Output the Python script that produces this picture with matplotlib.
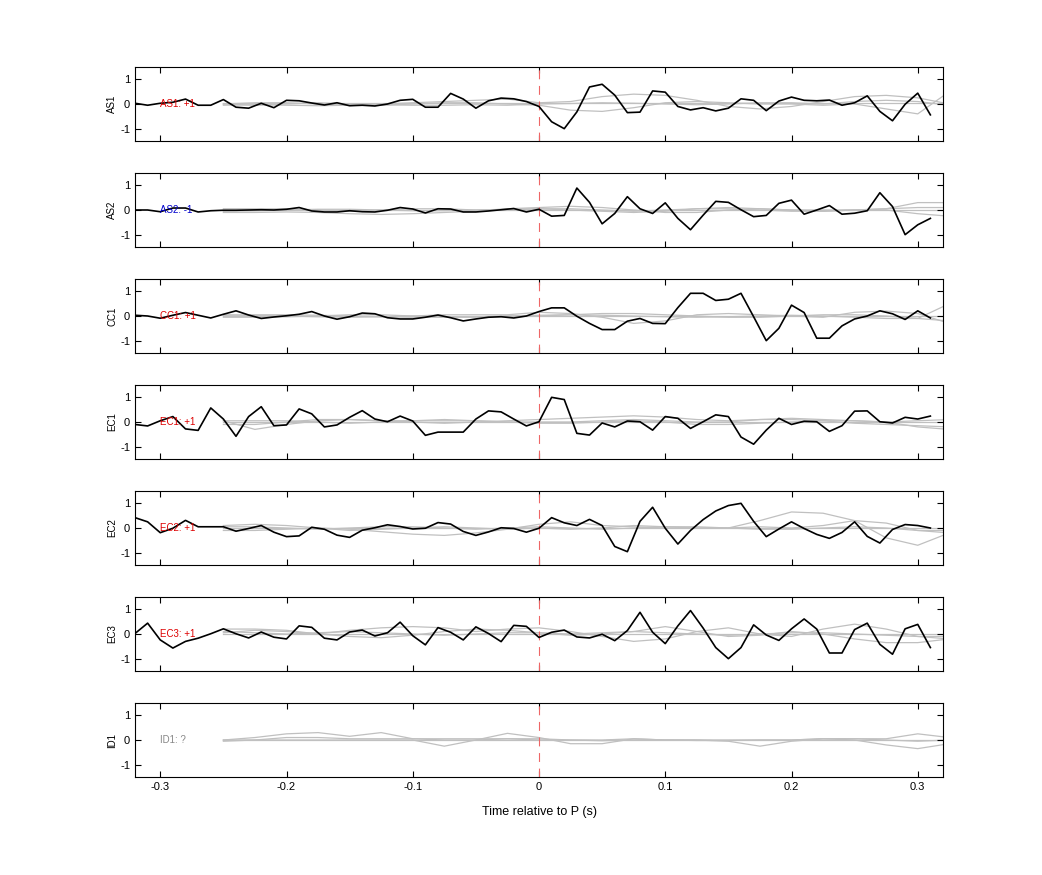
import numpy as np
import matplotlib
matplotlib.use("Agg")
import matplotlib.pyplot as plt

t_data = np.round(np.arange(-0.32, 0.315, 0.01), 2)
t_tmpl = np.round(np.arange(-0.25, 0.33, 0.025), 3)

stations = ["AS1", "AS2", "CC1", "EC1", "EC2", "EC3", "ID1"]
labels = ["AS1: +1", "AS2: -1", "CC1: +1", "EC1: +1", "EC2: +1", "EC3: +1", "ID1: ?"]
label_colors = ["#dd0000", "#0000cc", "#dd0000", "#dd0000", "#dd0000", "#dd0000", "#888888"]

as1 = [0.03,-0.05,0.03,0.07,0.2,-0.05,-0.05,0.18,-0.13,-0.17,0.03,-0.15,0.15,0.13,0.04,-0.04,
       0.05,-0.07,-0.05,-0.08,0.0,0.15,0.19,-0.13,-0.13,0.43,0.2,-0.17,0.13,0.24,0.21,0.1,
       -0.1,-0.72,-1.0,-0.32,0.69,0.8,0.36,-0.35,-0.33,0.53,0.48,-0.1,-0.24,-0.15,-0.28,-0.17,
       0.21,0.15,-0.27,0.12,0.28,0.15,0.13,0.16,-0.05,0.05,0.33,-0.3,-0.68,-0.01,0.44,-0.44]
as2 = [0.0,0.0,-0.07,0.08,0.08,-0.08,-0.03,-0.01,-0.01,0.0,0.01,0.0,0.03,0.1,-0.04,-0.08,
       -0.08,-0.03,-0.07,-0.08,-0.01,0.1,0.04,-0.12,0.05,0.04,-0.08,-0.08,-0.04,0.01,0.06,-0.08,
       0.03,-0.25,-0.22,0.89,0.31,-0.56,-0.14,0.54,0.05,-0.14,0.29,-0.34,-0.8,-0.21,0.35,0.31,
       0.01,-0.27,-0.22,0.27,0.4,-0.17,0.0,0.18,-0.17,-0.13,-0.03,0.7,0.14,-1.0,-0.6,-0.34]
cc1 = [0.03,0.0,-0.09,0.03,0.14,0.03,-0.08,0.07,0.21,0.04,-0.1,-0.04,0.01,0.07,0.18,0.0,
       -0.13,-0.03,0.12,0.09,-0.07,-0.12,-0.12,-0.05,0.04,-0.07,-0.2,-0.12,-0.05,-0.03,-0.08,0.0,
       0.18,0.33,0.33,-0.01,-0.3,-0.55,-0.55,-0.21,-0.1,-0.3,-0.31,0.34,0.92,0.92,0.63,0.68,
       0.92,-0.03,-1.0,-0.5,0.44,0.14,-0.9,-0.9,-0.4,-0.12,0.0,0.21,0.09,-0.14,0.21,-0.08]
ec1 = [-0.1,-0.16,0.05,0.22,-0.28,-0.34,0.57,0.12,-0.58,0.22,0.62,-0.15,-0.12,0.53,0.33,-0.2,
       -0.12,0.19,0.46,0.12,0.01,0.24,0.04,-0.54,-0.41,-0.41,-0.41,0.12,0.45,0.41,0.12,-0.16,
       0.01,1.0,0.91,-0.46,-0.53,-0.04,-0.2,0.04,0.01,-0.33,0.22,0.15,-0.26,0.01,0.29,0.22,
       -0.61,-0.9,-0.33,0.15,-0.1,0.03,0.01,-0.38,-0.15,0.44,0.45,0.01,-0.04,0.19,0.12,0.24]
ec2 = [0.42,0.25,-0.19,-0.01,0.31,0.05,0.05,0.05,-0.13,-0.02,0.1,-0.17,-0.35,-0.32,0.03,-0.05,
       -0.29,-0.38,-0.09,0.01,0.13,0.06,-0.04,-0.01,0.22,0.16,-0.14,-0.3,-0.16,0.01,-0.02,-0.17,
       -0.01,0.42,0.21,0.1,0.35,0.1,-0.75,-0.96,0.27,0.84,-0.01,-0.65,-0.1,0.34,0.69,0.91,
       1.0,0.27,-0.35,-0.04,0.25,-0.02,-0.26,-0.42,-0.18,0.25,-0.34,-0.61,-0.06,0.14,0.1,0.0]
ec3 = [0.02,0.44,-0.24,-0.57,-0.3,-0.17,0.01,0.21,0.01,-0.16,0.08,-0.13,-0.2,0.33,0.27,-0.17,
       -0.24,0.08,0.16,-0.08,0.05,0.48,-0.07,-0.44,0.26,0.07,-0.24,0.29,0.02,-0.31,0.35,0.31,
       -0.14,0.07,0.16,-0.12,-0.16,-0.01,-0.27,0.14,0.88,0.07,-0.39,0.33,0.95,0.24,-0.55,-1.0,
       -0.55,0.37,-0.04,-0.26,0.21,0.61,0.2,-0.77,-0.77,0.18,0.44,-0.42,-0.82,0.21,0.39,-0.55]
data = [as1, as2, cc1, ec1, ec2, ec3, None]

tmpl_as1 = [
    [0,0.05,0.05,0,-0.05,0,0.05,0.1,0.15,0.2,0.05,0.1,0.3,0.4,0.35,0.15,-0.1,-0.2,-0.1,0.1,0.3,0.35,0.25,0.0],
    [0,-0.05,0,0.05,0,-0.05,0,0.05,0.05,0,-0.05,-0.25,-0.3,-0.15,0.05,0.1,0.05,0,0,-0.05,0,-0.2,-0.4,0.5],
    [0.05,0.05,0.05,0.05,0.05,0.05,0.05,0.05,0.05,0.05,0.05,0.05,0.05,0.05,0.05,0.05,0.05,0.05,0.05,0.05,0.05,0.05,0.05,0.05],
    [-0.05,-0.03,-0.05,-0.07,-0.05,-0.03,-0.05,-0.05,-0.03,-0.05,0.0,0.02,0.05,0.03,0.0,-0.03,0.0,0.05,0.05,0.0,0.1,0.15,0.1,-0.05]]
tmpl_as2 = [
    [-0.1,-0.1,-0.08,-0.1,-0.15,-0.18,-0.15,-0.1,-0.05,0.05,0.1,0.15,0.1,0.0,-0.1,-0.1,0.0,0.05,0.0,-0.05,0.0,0.05,0.3,0.3],
    [0.05,0.05,0.05,0.0,-0.05,0,0.05,0.05,0.0,0.0,0.05,0.0,-0.05,-0.1,-0.05,0.05,0.1,0.05,0.0,0.0,0.0,0.05,0.1,0.1],
    [0,0,0,0,0,0,0,0,0,0,0,0,0,0,0,0,0,0,0,0,0,0,0,0],
    [-0.05,-0.03,0,0.03,0.03,0,-0.03,-0.03,0,0.03,0.05,0.05,0.0,-0.05,0.0,0.05,0.05,0.0,-0.05,-0.05,0.0,0.0,-0.15,-0.25]]
tmpl_cc1 = [
    [0.05,0.02,0,-0.03,-0.05,-0.03,0.0,0.05,0.05,0.05,0.15,0.1,-0.05,-0.3,-0.2,0.05,0.1,0.05,0.0,-0.05,0.15,0.2,0.1,-0.3],
    [-0.05,-0.05,-0.03,0.0,0.05,0.05,0.0,-0.05,-0.05,0.0,0.0,0.05,0.1,0.1,0.05,0.0,-0.05,-0.05,0.0,0.05,0.05,0.0,-0.1,0.5],
    [0,0,0,0,0,0,0,0,0,0,0,0,0,0,0,0,0,0,0,0,0,0,0,0],
    [0.03,0.05,0.05,0.03,0.0,-0.03,-0.05,-0.05,-0.03,0.0,0.03,0.05,0.03,0.0,-0.03,-0.05,-0.03,0.0,0.03,0.0,-0.05,-0.1,-0.1,-0.2]]
tmpl_ec1 = [
    [0.05,-0.3,-0.1,0.05,0.1,0.05,0.0,-0.05,0.0,0.05,0.1,0.15,0.2,0.25,0.2,0.1,0.05,0.1,0.15,0.1,0.05,0.0,-0.2,-0.3],
    [-0.1,-0.1,0.0,0.1,0.1,0.05,0.05,0.05,0.05,0.0,-0.05,-0.05,0.0,0.05,0.0,-0.1,-0.1,-0.05,0.0,0.05,0.05,0.0,0.05,0.1],
    [0,0,0,0,0,0,0,0,0,0,0,0,0,0,0,0,0,0,0,0,0,0,0,0],
    [0.05,0.05,0.05,0.0,-0.05,0.0,0.05,0.1,0.05,0.0,0.0,0.0,0.05,0.1,0.05,0.0,0.0,0.1,0.1,0.05,-0.05,-0.1,-0.15,-0.2]]
tmpl_ec2 = [
    [0.1,0.15,0.1,0.0,-0.1,-0.05,0.0,0.05,0.0,-0.05,0.15,0.25,0.1,0.05,0.0,0.0,0.0,0.3,0.65,0.6,0.3,-0.4,-0.7,-0.2],
    [-0.1,-0.1,-0.05,0.0,-0.05,-0.15,-0.25,-0.3,-0.2,-0.05,0.0,-0.05,0.0,0.1,0.05,0.0,0.0,0.05,0.0,0.1,0.3,0.2,-0.1,-0.2],
    [0,0,0,0,0,0,0,0,0,0,0,0,0,0,0,0,0,0,0,0,0,0,0,0],
    [0.05,0.05,0.0,-0.05,0.0,0.05,0.05,0.0,-0.05,0.0,0.05,0.0,-0.05,0.0,0.05,0.05,0.0,-0.05,-0.05,0.0,0.05,0.0,-0.1,-0.1]]
tmpl_ec3 = [
    [0.2,0.2,0.15,0.0,0.15,0.25,0.3,0.25,0.1,0.2,0.25,0.1,-0.1,-0.3,-0.2,0.1,0.25,0.0,-0.1,0.2,0.4,0.2,-0.1,-0.2],
    [0.05,0.15,0.1,0.0,-0.1,-0.15,-0.05,0.1,0.2,0.15,0.05,-0.05,0.0,0.1,0.3,0.1,-0.1,-0.05,0.1,0.0,-0.2,-0.35,-0.35,-0.2],
    [0,0,0,0,0,0,0,0,0,0,0,0,0,0,0,0,0,0,0,0,0,0,0,0],
    [0.1,0.05,0.0,0.05,0.1,0.05,0.0,-0.05,0.0,0.05,0.05,0.0,0.05,0.1,0.05,0.0,-0.05,0.0,0.05,0.05,0.0,-0.05,-0.1,-0.1]]
tmpl_id1 = [
    [0.0,0.1,0.25,0.3,0.15,0.3,0.05,0.0,0.0,0.05,0.05,0.0,0.0,0.05,0.0,0.0,0.0,0.0,0.0,0.05,0.05,0.05,0.25,0.1],
    [0.0,0.0,0.0,0.0,0.0,0.0,0.0,-0.25,0.0,0.27,0.1,-0.15,-0.15,0.05,0.0,0.0,-0.05,-0.25,-0.05,0.05,0.0,-0.2,-0.35,-0.15],
    [0,0,0,0,0,0,0,0,0,0,0,0,0,0,0,0,0,0,0,0,0,0,0,0],
    [-0.05,0.0,0.1,0.1,0.05,0.05,0.05,0.05,0.05,0.05,0.0,0.0,-0.03,0.0,0.0,-0.02,-0.02,0.0,0.0,0.05,0.05,0.0,-0.05,0.0]]
templates = [tmpl_as1, tmpl_as2, tmpl_cc1, tmpl_ec1, tmpl_ec2, tmpl_ec3, tmpl_id1]

plt.rcParams['font.family'] = ['Liberation Sans', 'DejaVu Sans']
plt.rcParams['axes.unicode_minus'] = False
fig = plt.figure(figsize=(10.42, 8.75), dpi=100)
W, H = 1042, 875
left, right = 135, 943
tops = [67, 173, 279, 385, 491, 597, 703]
ph = 74
for i, st in enumerate(stations):
    ax = fig.add_axes([left / W, 1 - (tops[i] + ph) / H, (right - left) / W, ph / H])
    for g in templates[i]:
        ax.plot(t_tmpl, g, color="#c0c0c0", lw=0.9, zorder=1)
    ax.axvline(0, color="#ee6666", lw=0.8, ls=(0, (8, 6)), zorder=2)
    if data[i] is not None:
        ax.plot(t_data, data[i], color="black", lw=1.2, zorder=3)
    ax.text(-0.30, 0.0, labels[i], color=label_colors[i], fontsize=7, va="center", ha="left", zorder=4)
    ax.set_xlim(-0.32, 0.32)
    ax.set_ylim(-1.5, 1.5)
    ax.set_yticks([-1, 0, 1])
    ax.set_xticks([-0.3, -0.2, -0.1, 0, 0.1, 0.2, 0.3])
    ax.tick_params(direction="in", top=True, right=True, labelsize=8, length=4)
    ax.set_ylabel(st, fontsize=7, labelpad=2)
    if i < 6:
        ax.set_xticklabels([])
    else:
        ax.set_xticklabels(["-0.3", "-0.2", "-0.1", "0", "0.1", "0.2", "0.3"])
        ax.set_xlabel("Time relative to P (s)", fontsize=9, labelpad=10)
fig.savefig("out.png", dpi=100)
